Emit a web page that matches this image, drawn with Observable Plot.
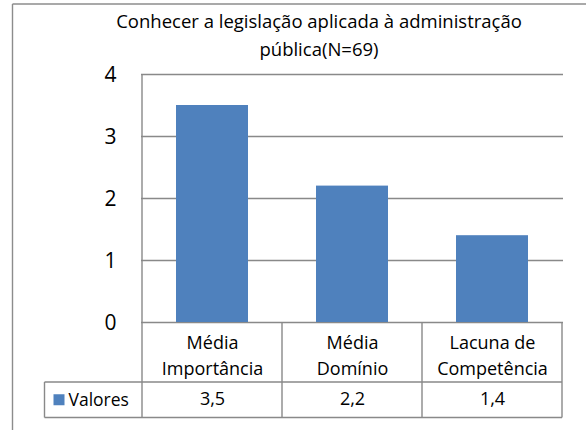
<!DOCTYPE html>
<html><head><meta charset="utf-8">
<script src="https://cdn.jsdelivr.net/npm/d3@7"></script>
<script src="https://cdn.jsdelivr.net/npm/@observablehq/plot@0.6"></script>
<style>body{margin:0;background:#fff;} #chart svg{display:block;}</style>
</head><body><div id="chart"></div>
<script>
const titleLines = ["Conhecer a legislação aplicada à administração", "pública(N=69)"];
const categories = ["Média\nImportância", "Média\nDomínio", "Lacuna de\nCompetência"];
const values = [3.5, 2.2, 1.4];
const valueLabels = ["3,5", "2,2", "1,4"];
const seriesName = "Valores";
const yTicks = [0, 1, 2, 3, 4];

const data = categories.map((c, i) => ({category: c, value: values[i], label: valueLabels[i]}));

const font = "Open Sans";
const gray = "#898989";
const barColor = "#4f81bd";

const plot = Plot.plot({
  width: 586, height: 430,
  marginTop: 74, marginBottom: 108, marginLeft: 141, marginRight: 23,
  style: {fontFamily: font, background: "white", color: "#000"},
  x: {domain: categories, paddingInner: 0.484, paddingOuter: 0.242, axis: null},
  y: {domain: [0, 4], axis: null},
  marks: [
    Plot.gridY(yTicks, {stroke: gray, strokeOpacity: 1, strokeWidth: 1.4}),
    Plot.barY(data, {x: "category", y: "value", fill: barColor}),
    Plot.axisY(yTicks, {label: null, tickFormat: d => String(d), tickSize: 0, tickPadding: 25, fontSize: 21, dy: 1, fill: "#000"}),
    Plot.text(data, {x: "category", y: () => 0, text: "category", dy: 31, lineHeight: 1.45, fontSize: 18, fill: "#000"}),
    Plot.text(data, {x: "category", y: () => 0, text: "label", dy: 76.5, fontSize: 18, fill: "#000"})
  ]
});

document.getElementById("chart").append(plot);

// table structure, title and frame, placed from the plot's own scales
const svg = d3.select(plot);
const xs = plot.scale("x"), ys = plot.scale("y");
const half = (xs.step - xs.bandwidth) / 2;
const bounds = [xs.apply(categories[0]) - half, ...categories.map(c => xs.apply(c) - half + xs.step)];
const y0 = ys.apply(0), yTop = ys.apply(4);
const rowSplit = y0 + 60, rowBottom = y0 + 95.5;
const legendLeft = 44.5;

const g = svg.append("g").attr("stroke", gray).attr("stroke-width", 1.4).attr("fill", "none");
g.append("line").attr("x1", bounds[0]).attr("x2", bounds[0]).attr("y1", yTop).attr("y2", rowBottom);
bounds.slice(1).forEach(b => g.append("line").attr("x1", b).attr("x2", b).attr("y1", y0).attr("y2", rowBottom));
[rowSplit, rowBottom].forEach(yy => g.append("line").attr("x1", legendLeft).attr("x2", bounds[bounds.length - 1]).attr("y1", yy).attr("y2", yy));
g.append("line").attr("x1", legendLeft).attr("x2", legendLeft).attr("y1", rowSplit).attr("y2", rowBottom);

// outer chart border (left and top)
const fr = svg.append("g").attr("stroke", "#8c8c8c").attr("stroke-width", 1.4).attr("fill", "none");
fr.append("line").attr("x1", 12.5).attr("x2", 12.5).attr("y1", 4).attr("y2", 430);
fr.append("line").attr("x1", 12.5).attr("x2", 586).attr("y1", 4).attr("y2", 4);

// legend key in table
const rowMid = (rowSplit + rowBottom) / 2;
svg.append("rect").attr("x", 53.5).attr("y", rowMid - 5.5).attr("width", 11).attr("height", 11).attr("fill", barColor);
svg.append("text").attr("x", 68.5).attr("y", rowMid + 6).attr("text-anchor", "start").attr("font-family", font).attr("font-size", 17.5).attr("fill", "#000").text(seriesName);

// title
const tt = svg.append("text").attr("font-family", font).attr("font-size", 18.5).attr("fill", "#000").attr("text-anchor", "middle");
titleLines.forEach((t, i) => tt.append("tspan").attr("x", 319).attr("y", 27.5 + i * 28.3).text(t));
</script>
</body></html>
